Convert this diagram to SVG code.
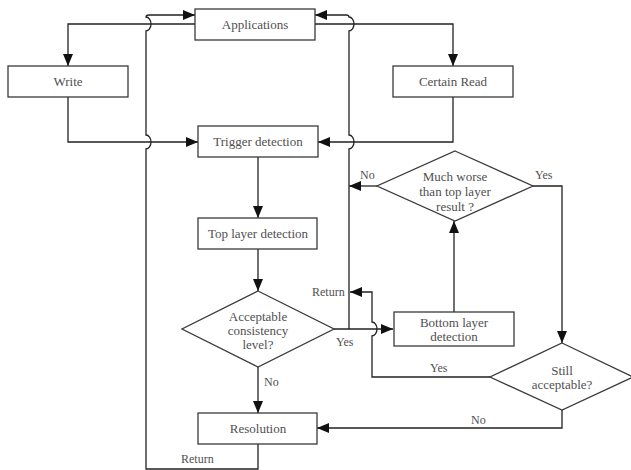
<svg xmlns="http://www.w3.org/2000/svg" width="631" height="470" viewBox="0 0 631 470">
<style>
.box{fill:#fff;stroke:#3a3a3a;stroke-width:1.3}
.t{font-family:"Liberation Serif","Times New Roman",serif;font-size:13px;fill:#505050;text-anchor:middle}
.l{font-family:"Liberation Serif","Times New Roman",serif;font-size:12px;fill:#505050}
.c{fill:none;stroke:#222;stroke-width:1.3}
</style>
<defs>
<marker id="ah" markerUnits="userSpaceOnUse" markerWidth="13" markerHeight="10" refX="12" refY="5" orient="auto">
<path d="M0,0 L12,5 L0,10 Z" fill="#111"/>
</marker>
</defs>
<rect width="631" height="470" fill="#fff"/>
<g id="connectors">
<path class="c" d="M195,24 H68 V66" marker-end="url(#ah)"/>
<path class="c" d="M314,24 H453 V66" marker-end="url(#ah)"/>
<path class="c" d="M68,97 V142 H198" marker-end="url(#ah)"/>
<path class="c" d="M453,97 V142 H318" marker-end="url(#ah)"/>
<path class="c" d="M258,157 V218" marker-end="url(#ah)"/>
<path class="c" d="M258,249 V291" marker-end="url(#ah)"/>
<path class="c" d="M258,367 V413" marker-end="url(#ah)"/>
<path class="c" d="M334,329 H393" marker-end="url(#ah)"/>
<path class="c" d="M454,312 V221" marker-end="url(#ah)"/>
<path class="c" d="M377,186 H349" marker-end="url(#ah)"/>
<path class="c" d="M533,186 H562 V343" marker-end="url(#ah)"/>
<path class="c" d="M490,377 H372 V336 A5,7 0 0 0 372,322 V292 H350" marker-end="url(#ah)"/>
<path class="c" d="M562,410 V428 H317" marker-end="url(#ah)"/>
<path class="c" d="M258,444 V469 H146 V149 A5,7 0 0 0 146,135 V31 A5,7 0 0 0 146,17 Q146,15 149,15 H195" marker-end="url(#ah)"/>
<path class="c" d="M349,329 V149 A5,7 0 0 0 349,135 V31 A5,7 0 0 0 349,17 Q349,15 346,15 H315" marker-end="url(#ah)"/>
<text class="l" x="264" y="386">No</text>
<text class="l" x="336" y="346">Yes</text>
<text class="l" x="430" y="372">Yes</text>
<text class="l" x="471" y="424">No</text>
<text class="l" x="360" y="179">No</text>
<text class="l" x="535" y="179">Yes</text>
<text class="l" x="312" y="296">Return</text>
<text class="l" x="181" y="463">Return</text>
</g>
<g id="applications">
<rect class="box" x="195" y="9" width="120" height="31"/>
<text class="t" x="255" y="29">Applications</text>
</g>
<g id="write">
<rect class="box" x="8" y="66" width="120" height="31"/>
<text class="t" x="68" y="86">Write</text>
</g>
<g id="certain-read">
<rect class="box" x="393" y="66" width="120" height="31"/>
<text class="t" x="453" y="86">Certain Read</text>
</g>
<g id="trigger-detection">
<rect class="box" x="198" y="126" width="120" height="31"/>
<text class="t" x="258" y="146">Trigger detection</text>
</g>
<g id="top-layer-detection">
<rect class="box" x="198" y="218" width="119" height="31"/>
<text class="t" x="258" y="238">Top layer detection</text>
</g>
<g id="acceptable">
<polygon class="box" points="258,291 334,329 258,367 182,329"/>
<text class="t" x="258" y="321">Acceptable</text>
<text class="t" x="258" y="335">consistency</text>
<text class="t" x="258" y="349">level?</text>
</g>
<g id="resolution">
<rect class="box" x="198" y="413" width="119" height="31"/>
<text class="t" x="258" y="433">Resolution</text>
</g>
<g id="bottom-layer-detection">
<rect class="box" x="394" y="312" width="120" height="34"/>
<text class="t" x="454" y="327">Bottom layer</text>
<text class="t" x="454" y="341">detection</text>
</g>
<g id="much-worse">
<polygon class="box" points="455,151 533,186 455,221 377,186"/>
<text class="t" x="455" y="181">Much worse</text>
<text class="t" x="455" y="196">than top layer</text>
<text class="t" x="455" y="211">result ?</text>
</g>
<g id="still-acceptable">
<polygon class="box" points="562,343 633,377 562,410 490,377"/>
<text class="t" x="562" y="375">Still</text>
<text class="t" x="562" y="389">acceptable?</text>
</g>
</svg>
